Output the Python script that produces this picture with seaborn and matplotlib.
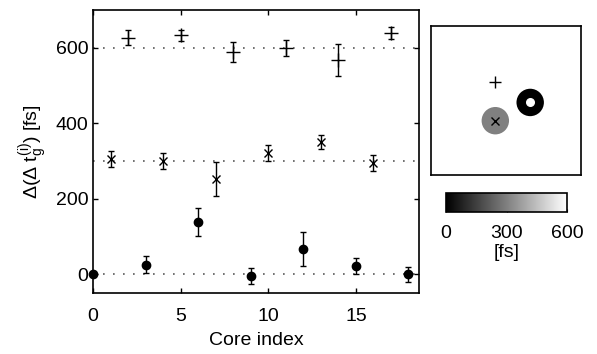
import numpy as np
import pandas as pd
import matplotlib
matplotlib.use("Agg")
import matplotlib.pyplot as plt
import seaborn as sns

# core delay differences, three groups offset by 0 / 300 / 600 fs
dot_x = [0, 3, 6, 9, 12, 15, 18]
dot_y = [0, 25, 137, -5, 66, 21, 0]
dot_err = [0, 22, 37, 21, 45, 21, 20]

cross_x = [1, 4, 7, 10, 13, 16]
cross_y = [305, 300, 252, 322, 350, 295]
cross_err = [22, 21, 45, 21, 18, 21]

plus_x = [2, 5, 8, 11, 14, 17]
plus_y = [627, 633, 589, 599, 567, 638]
plus_err = [19, 15, 27, 22, 43, 16]

offsets = [0, 300, 600]

# inset: core positions and their colour value
inset_x = [0.43, 0.43, 0.662]
inset_y = [0.627, 0.365, 0.487]
inset_val = [600, 300, 0]
inset_mark = ["+", "x", "o"]

sns.set_style("ticks")
plt.rcParams["font.family"] = ["Liberation Sans", "DejaVu Sans"]
plt.rcParams["mathtext.fontset"] = "custom"
plt.rcParams["mathtext.rm"] = "Liberation Sans"
plt.rcParams["mathtext.it"] = "Liberation Sans"
plt.rcParams["text.color"] = "k"
plt.rcParams["axes.labelcolor"] = "k"
plt.rcParams["xtick.color"] = "k"
plt.rcParams["ytick.color"] = "k"
fs = 14

fig = plt.figure(figsize=(5.97, 3.54), dpi=100)
ax = fig.add_axes([0.1558, 0.1723, 0.546, 0.7995])

for off in offsets:
    ax.axhline(off, color="0.35", ls=(0, (1, 5)), lw=1.2, zorder=0)

ax.errorbar(dot_x, dot_y, yerr=dot_err, fmt="o", color="k", ms=6,
            capsize=2.5, elinewidth=1, capthick=1, clip_on=False)
ax.errorbar(cross_x, cross_y, yerr=cross_err, fmt="x", color="k", ms=6,
            mew=1, capsize=2.5, elinewidth=1, capthick=1)
ax.errorbar(plus_x, plus_y, yerr=plus_err, fmt="+", color="k", ms=10,
            mew=1, capsize=2.5, elinewidth=1, capthick=1)

ax.set_xlim(0, 18.6)
ax.set_ylim(-50, 700)
ax.set_xticks([0, 5, 10, 15])
ax.set_yticks([0, 200, 400, 600])
ax.tick_params(direction="in", top=True, right=True, labelsize=fs, length=3.5, width=1)
ax.tick_params(axis="x", pad=10.5)
for s in ax.spines.values():
    s.set_linewidth(1.2)
    s.set_color("k")
ax.set_xlabel("Core index", fontsize=fs, labelpad=5.5)
ax.set_ylabel(r"$\Delta(\Delta\ \mathrm{t}_\mathrm{g}^{(\mathrm{i})})$ [fs]", fontsize=fs, labelpad=4)

# inset with core layout
ins = fig.add_axes([0.7214, 0.5048, 0.2518, 0.4226])
df = pd.DataFrame({"x": inset_x, "y": inset_y, "val": inset_val})
sns.scatterplot(data=df, x="x", y="y", hue="val", palette="gray",
                hue_norm=(0, 600), s=390, edgecolor="none", legend=False, ax=ins)
ins.scatter([inset_x[2]], [inset_y[2]], s=30, color="w", zorder=3)
for xx, yy, m in zip(inset_x[:2], inset_y[:2], inset_mark[:2]):
    ins.plot(xx, yy, marker=m, color="k", ms=9 if m == "+" else 6, mew=1, zorder=4)
ins.set_xlim(0, 1)
ins.set_ylim(0, 1)
ins.set_xticks([])
ins.set_yticks([])
ins.set_xlabel("")
ins.set_ylabel("")
for s in ins.spines.values():
    s.set_linewidth(1.2)
    s.set_color("k")

# colorbar
cax = fig.add_axes([0.747, 0.4011, 0.2032, 0.0528])
sm = plt.cm.ScalarMappable(cmap="gray", norm=plt.Normalize(0, 600))
cb = fig.colorbar(sm, cax=cax, orientation="horizontal", ticks=[0, 300, 600])
cb.outline.set_linewidth(1.2)
cb.outline.set_edgecolor("k")
cax.tick_params(direction="in", labelsize=fs, length=2, pad=9)
cb.set_label("[fs]", fontsize=fs, labelpad=1.5)

fig.savefig("out.png", dpi=100)
